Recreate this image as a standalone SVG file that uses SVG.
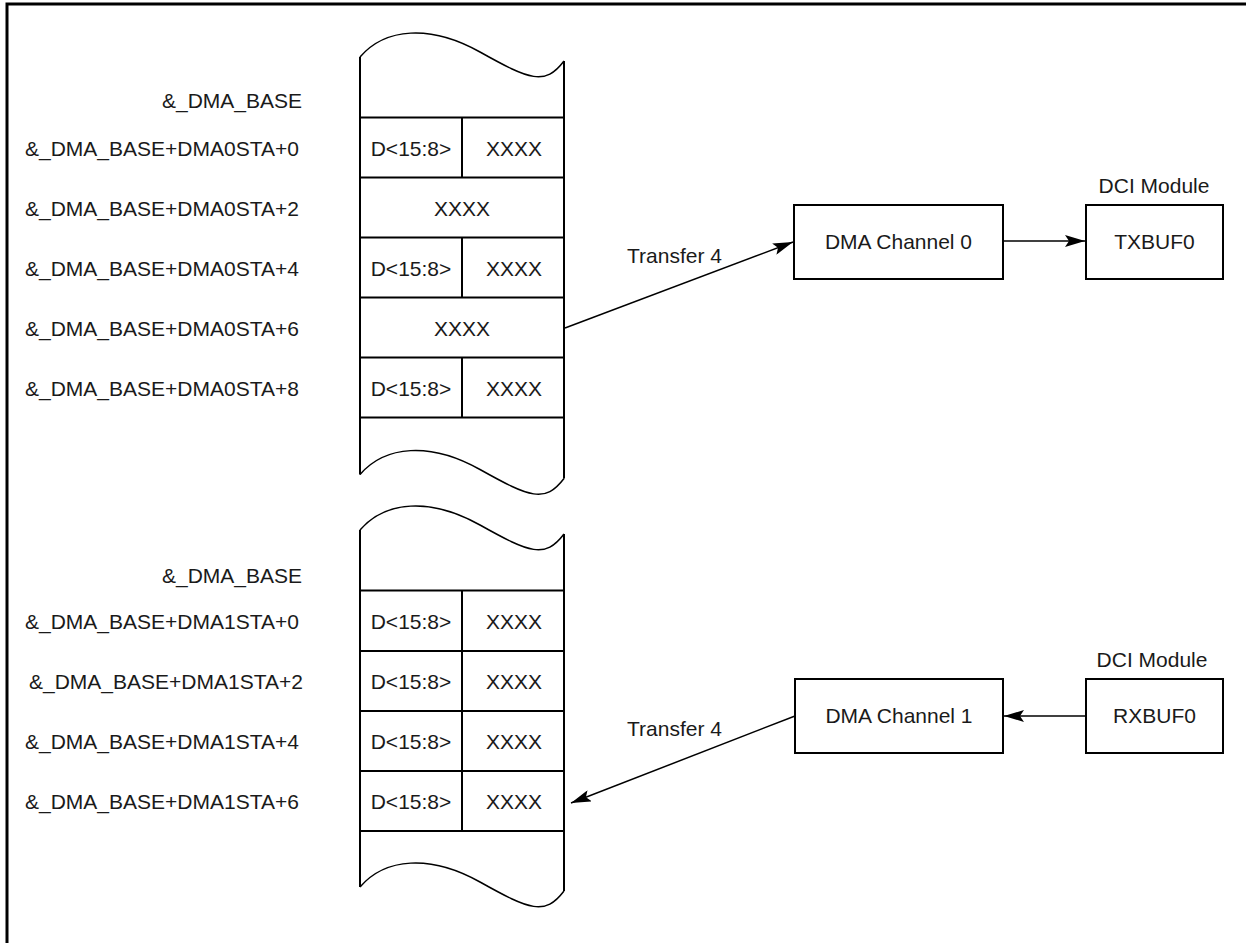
<svg xmlns="http://www.w3.org/2000/svg" width="1246" height="943" viewBox="0 0 1246 943">
<style>
text{font-family:"Liberation Sans",Arial,sans-serif;font-size:21px;fill:#1a1a1a}
.c{text-anchor:middle}
.b{fill:none;stroke:#000;stroke-width:2}
.w{fill:none;stroke:#000;stroke-width:1.5}
.a{fill:none;stroke:#000;stroke-width:1.5}
</style>
<defs>
<marker id="ah" viewBox="0 0 20 12" refX="20" refY="6" markerWidth="20" markerHeight="12" markerUnits="userSpaceOnUse" orient="auto">
<path d="M0,0 L20,6 L0,12 L4,6 Z" fill="#000"/>
</marker>
<path id="wave" d="M360,57 C385,28 430,24 480,52 S545,86 564,61"/>
</defs>
<rect width="1246" height="943" fill="#fff"/>
<path d="M7,943 V4 H1246" fill="none" stroke="#000" stroke-width="3"/>

<g id="mem0">
<use href="#wave" class="w"/>
<use href="#wave" class="w" transform="translate(0,417.5)"/>
<path class="b" d="M360,57 V474.5 M564,61 V478.5 M360,117.5 H564 M360,177.5 H564 M360,237.5 H564 M360,297.5 H564 M360,357.5 H564 M360,417.5 H564 M462,117.5 V177.5 M462,237.5 V297.5 M462,357.5 V417.5"/>
<text x="411" y="155.5" class="c">D&lt;15:8&gt;</text>
<text x="514" y="155.5" class="c">XXXX</text>
<text x="462" y="215.5" class="c">XXXX</text>
<text x="411" y="276" class="c">D&lt;15:8&gt;</text>
<text x="514" y="276" class="c">XXXX</text>
<text x="462" y="336" class="c">XXXX</text>
<text x="411" y="395.5" class="c">D&lt;15:8&gt;</text>
<text x="514" y="395.5" class="c">XXXX</text>
</g>
<g id="labels0">
<text x="162" y="107.5">&amp;_DMA_BASE</text>
<text x="25" y="155.5">&amp;_DMA_BASE+DMA0STA+0</text>
<text x="25" y="215.5">&amp;_DMA_BASE+DMA0STA+2</text>
<text x="25" y="276">&amp;_DMA_BASE+DMA0STA+4</text>
<text x="25" y="336">&amp;_DMA_BASE+DMA0STA+6</text>
<text x="25" y="395.5">&amp;_DMA_BASE+DMA0STA+8</text>
</g>

<g id="mem1">
<use href="#wave" class="w" transform="translate(0,473)"/>
<use href="#wave" class="w" transform="translate(0,830)"/>
<path class="b" d="M360,530 V887 M564,534 V891 M360,590.5 H564 M360,651 H564 M360,711 H564 M360,771 H564 M360,831 H564 M462,590.5 V831"/>
<text x="411" y="628.5" class="c">D&lt;15:8&gt;</text>
<text x="514" y="628.5" class="c">XXXX</text>
<text x="411" y="688.5" class="c">D&lt;15:8&gt;</text>
<text x="514" y="688.5" class="c">XXXX</text>
<text x="411" y="749" class="c">D&lt;15:8&gt;</text>
<text x="514" y="749" class="c">XXXX</text>
<text x="411" y="809" class="c">D&lt;15:8&gt;</text>
<text x="514" y="809" class="c">XXXX</text>
</g>
<g id="labels1">
<text x="162" y="582.5">&amp;_DMA_BASE</text>
<text x="25" y="628.5">&amp;_DMA_BASE+DMA1STA+0</text>
<text x="29" y="688.5">&amp;_DMA_BASE+DMA1STA+2</text>
<text x="25" y="749">&amp;_DMA_BASE+DMA1STA+4</text>
<text x="25" y="809">&amp;_DMA_BASE+DMA1STA+6</text>
</g>

<g id="dma0">
<rect x="794" y="205" width="209" height="74" class="b"/>
<text x="898.5" y="249" class="c">DMA Channel 0</text>
</g>
<g id="txbuf0">
<text x="1154" y="193" class="c">DCI Module</text>
<rect x="1086" y="205" width="137" height="74" class="b"/>
<text x="1154.5" y="249" class="c">TXBUF0</text>
</g>
<g id="dma1">
<rect x="795" y="679" width="208" height="74" class="b"/>
<text x="899" y="723" class="c">DMA Channel 1</text>
</g>
<g id="rxbuf0">
<text x="1152" y="667" class="c">DCI Module</text>
<rect x="1086" y="679" width="137" height="74" class="b"/>
<text x="1154.5" y="723" class="c">RXBUF0</text>
</g>

<g id="connectors">
<line x1="565" y1="328" x2="793" y2="242" class="a" marker-end="url(#ah)"/>
<text x="627" y="263">Transfer 4</text>
<line x1="1003" y1="241" x2="1085" y2="241" class="a" marker-end="url(#ah)"/>
<line x1="795" y1="716" x2="571" y2="803" class="a" marker-end="url(#ah)"/>
<text x="627" y="736">Transfer 4</text>
<line x1="1086" y1="716" x2="1004" y2="716" class="a" marker-end="url(#ah)"/>
</g>
</svg>
